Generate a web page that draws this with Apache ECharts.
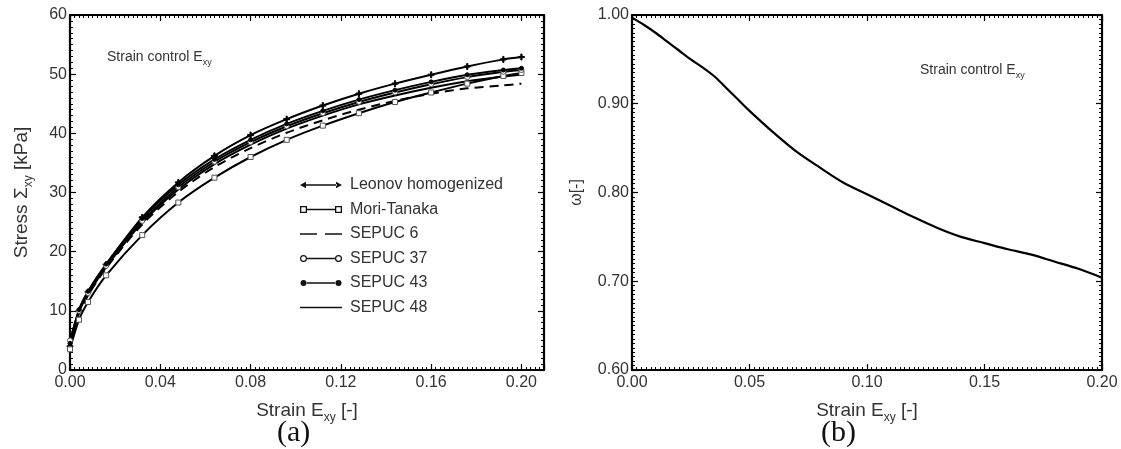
<!DOCTYPE html>
<html>
<head>
<meta charset="utf-8">
<script src="https://cdn.jsdelivr.net/npm/echarts@6/dist/echarts.min.js"></script>
<style>
  html, body { margin: 0; padding: 0; background: #fff; }
  #main { width: 1121px; height: 449px; }
</style>
</head>
<body>
<div id="main"></div>
<script>
// (a) stress vs strain
var strain = [0, 0.004, 0.008, 0.016, 0.032, 0.048, 0.064, 0.080, 0.096, 0.112, 0.128, 0.144, 0.160, 0.176, 0.192, 0.200];
var leonov = [4.0, 10.0, 13.2, 17.8, 25.8, 31.7, 36.2, 39.7, 42.4, 44.7, 46.7, 48.4, 49.9, 51.3, 52.5, 52.9];
var moriTanaka = [3.5, 8.5, 11.5, 16.0, 22.8, 28.3, 32.5, 36.0, 38.9, 41.3, 43.4, 45.3, 46.9, 48.4, 49.7, 50.2];
var sepuc6 = [4.0, 9.6, 12.6, 17.2, 24.6, 30.1, 34.3, 37.5, 40.1, 42.2, 44.0, 45.5, 46.7, 47.6, 48.1, 48.4];
var sepuc37 = [5.0, 10.0, 13.0, 17.6, 25.2, 30.9, 35.2, 38.5, 41.2, 43.4, 45.3, 46.9, 48.3, 49.5, 50.4, 50.7];
var sepuc43 = [4.5, 10.2, 13.3, 17.9, 25.6, 31.3, 35.6, 38.9, 41.6, 43.8, 45.7, 47.3, 48.7, 49.9, 50.7, 51.0];
var sepuc48 = [4.5, 9.8, 12.8, 17.4, 24.9, 30.5, 34.8, 38.1, 40.8, 43.0, 44.9, 46.4, 47.7, 48.8, 49.6, 49.9];

// (b) omega vs strain
var strainB = [0, 0.005, 0.01, 0.015, 0.02, 0.025, 0.03, 0.035, 0.04, 0.045, 0.05, 0.06, 0.07, 0.08, 0.09, 0.10, 0.11, 0.12, 0.13, 0.14, 0.15, 0.16, 0.17, 0.18, 0.19, 0.20];
var omega = [0.997, 0.989, 0.980, 0.970, 0.960, 0.950, 0.941, 0.931, 0.918, 0.905, 0.892, 0.868, 0.846, 0.828, 0.811, 0.798, 0.785, 0.772, 0.760, 0.750, 0.743, 0.736, 0.730, 0.722, 0.714, 0.704];

var TXT = '#333';
var FONT = 'Liberation Sans, Arial, sans-serif';

function pairs(xs, ys) {
  return xs.map(function (x, i) { return [x, ys[i]]; });
}

var richName = {
  n: { fontSize: 19, fontFamily: FONT, color: TXT, lineHeight: 26 },
  s: { fontSize: 12, fontFamily: FONT, color: TXT, lineHeight: 12, verticalAlign: 'bottom' }
};
var richNote = {
  n: { fontSize: 14, fontFamily: FONT, fontWeight: 'normal', color: TXT, lineHeight: 20 },
  s: { fontSize: 9, fontFamily: FONT, fontWeight: 'normal', color: TXT, lineHeight: 9, verticalAlign: 'bottom' }
};

function frameAxis(opt) {
  var base = {
    type: 'value',
    axisLine: { show: true, onZero: false, lineStyle: { color: '#000', width: 2.2 } },
    axisTick: { show: true, inside: true, length: 6, lineStyle: { color: '#000', width: 1.2 } },
    minorTick: { show: true, splitNumber: 10, length: 3, lineStyle: { color: '#000', width: 1 } },
    splitLine: { show: false },
    axisLabel: { show: true, color: TXT, fontSize: 16, fontFamily: FONT, margin: 5 }
  };
  for (var k in opt) base[k] = opt[k];
  return base;
}

// legend icons: 42x14 box, markers at both ends like the original key
var BOX = 'M0,0M42,14';
var icons = {
  line: BOX + 'M0,6.2h42v1.6h-42z',
  leonov: BOX + 'M0,7L6,3.8L6,10.2ZM42,7L36,3.8L36,10.2ZM5,6.2h32v1.6h-32z',
  square: BOX + 'M0,3.5h7v7h-7zM1.3,4.8v4.4h4.4v-4.4zM35,3.5h7v7h-7zM36.3,4.8v4.4h4.4v-4.4zM7,6.3h28v1.4h-28z',
  dash: BOX + 'M0,6.2h17v1.6h-17zM25,6.2h17v1.6h-17z',
  ring: BOX + 'M0,7a3.5,3.5 0 1,0 7,0a3.5,3.5 0 1,0 -7,0zM1.2,7a2.3,2.3 0 1,1 4.6,0a2.3,2.3 0 1,1 -4.6,0z' +
        'M35,7a3.5,3.5 0 1,0 7,0a3.5,3.5 0 1,0 -7,0zM36.2,7a2.3,2.3 0 1,1 4.6,0a2.3,2.3 0 1,1 -4.6,0zM7,6.3h28v1.4h-28z',
  dot: BOX + 'M0.5,7a3,3 0 1,0 6,0a3,3 0 1,0 -6,0zM35.5,7a3,3 0 1,0 6,0a3,3 0 1,0 -6,0zM6,6.2h30v1.6h-30z'
};
function legendItem(name, icon) {
  return { name: name, icon: 'path://' + icon, itemStyle: { color: '#111', borderWidth: 0 } };
}

var plusPath = 'path://M4,0h2v10h-2zM0,4h10v2h-10z';

function curve(name, ys, symbol, size, extra) {
  var s = {
    name: name,
    type: 'line',
    xAxisIndex: 0,
    yAxisIndex: 0,
    data: pairs(strain, ys),
    smooth: 0.3,
    symbol: symbol,
    symbolSize: size,
    showSymbol: symbol !== 'none',
    lineStyle: { color: '#000', width: 2 },
    itemStyle: { color: '#000', borderColor: '#000', borderWidth: 1 }
  };
  if (extra) for (var k in extra) s[k] = extra[k];
  return s;
}

var chart = echarts.init(document.getElementById('main'));
chart.setOption({
  animation: false,
  backgroundColor: '#fff',
  grid: [
    { left: 70, top: 15, width: 474, height: 355 },
    { left: 632, top: 15, width: 470, height: 355 }
  ],
  title: [
    { text: '{n|Strain control E}{s|xy}', left: 107, top: 47, padding: 0,
      textStyle: { fontWeight: 'normal', rich: richNote } },
    { text: '{n|Strain control E}{s|xy}', left: 920, top: 60, padding: 0,
      textStyle: { fontWeight: 'normal', rich: richNote } }
  ],
  legend: {
    orient: 'vertical',
    left: 300,
    top: 177,
    padding: 0,
    itemWidth: 42,
    itemHeight: 14,
    itemGap: 8.5,
    textStyle: { color: TXT, fontSize: 16, fontFamily: FONT, padding: [0, 0, 0, 3] },
    data: [
      legendItem('Leonov homogenized', icons.leonov),
      legendItem('Mori-Tanaka', icons.square),
      legendItem('SEPUC 6', icons.dash),
      legendItem('SEPUC 37', icons.ring),
      legendItem('SEPUC 43', icons.dot),
      legendItem('SEPUC 48', icons.line)
    ]
  },
  graphic: [
    { type: 'text', left: 277, top: 418, style: { text: '(a)', font: '30px "Liberation Serif", serif', fill: '#111' } },
    { type: 'text', left: 821, top: 418, style: { text: '(b)', font: '30px "Liberation Serif", serif', fill: '#111' } }
  ],
  xAxis: [
    frameAxis({ gridIndex: 0, position: 'bottom', min: 0, max: 0.21, interval: 0.04,
      minorTick: { show: true, splitNumber: 20, length: 3, lineStyle: { color: '#000', width: 1 } },
      axisLabel: { show: true, color: TXT, fontSize: 16, fontFamily: FONT, margin: 5, showMaxLabel: false,
        formatter: function (v) { return v.toFixed(2); } },
      name: '{n|Strain E}{s|xy}{n| [-]}', nameLocation: 'middle', nameGap: 28,
      nameTextStyle: { rich: richName } }),
    frameAxis({ gridIndex: 0, position: 'top', min: 0, max: 0.21, interval: 0.04,
      minorTick: { show: true, splitNumber: 20, length: 3, lineStyle: { color: '#000', width: 1 } },
      axisLabel: { show: false } }),
    frameAxis({ gridIndex: 1, position: 'bottom', min: 0, max: 0.2, interval: 0.05,
      minorTick: { show: true, splitNumber: 25, length: 3, lineStyle: { color: '#000', width: 1 } },
      axisLabel: { show: true, color: TXT, fontSize: 16, fontFamily: FONT, margin: 5,
        formatter: function (v) { return v.toFixed(2); } },
      name: '{n|Strain E}{s|xy}{n| [-]}', nameLocation: 'middle', nameGap: 28,
      nameTextStyle: { rich: richName } }),
    frameAxis({ gridIndex: 1, position: 'top', min: 0, max: 0.2, interval: 0.05,
      minorTick: { show: true, splitNumber: 25, length: 3, lineStyle: { color: '#000', width: 1 } },
      axisLabel: { show: false } })
  ],
  yAxis: [
    frameAxis({ gridIndex: 0, position: 'left', min: 0, max: 60, interval: 10,
      axisLabel: { show: true, color: TXT, fontSize: 16, fontFamily: FONT, margin: 3 },
      name: '{n|Stress \u03A3}{s|xy}{n| [kPa]}', nameLocation: 'middle', nameGap: 35,
      nameTextStyle: { rich: richName } }),
    frameAxis({ gridIndex: 0, position: 'right', min: 0, max: 60, interval: 10,
      axisLabel: { show: false } }),
    frameAxis({ gridIndex: 1, position: 'left', min: 0.6, max: 1.0, interval: 0.1,
      minorTick: { show: true, splitNumber: 20, length: 3, lineStyle: { color: '#000', width: 1 } },
      axisLabel: { show: true, color: TXT, fontSize: 16, fontFamily: FONT, margin: 3,
        formatter: function (v) { return v.toFixed(2); } },
      name: '\u03C9[-]', nameLocation: 'middle', nameGap: 47,
      nameTextStyle: { color: TXT, fontSize: 16, fontFamily: FONT } }),
    frameAxis({ gridIndex: 1, position: 'right', min: 0.6, max: 1.0, interval: 0.1,
      minorTick: { show: true, splitNumber: 20, length: 3, lineStyle: { color: '#000', width: 1 } },
      axisLabel: { show: false } })
  ],
  series: [
    curve('Leonov homogenized', leonov, plusPath, 6),
    curve('Mori-Tanaka', moriTanaka, 'rect', 5, { itemStyle: { color: '#fff', borderColor: '#555', borderWidth: 1 } }),
    curve('SEPUC 6', sepuc6, 'none', 0, { lineStyle: { color: '#000', width: 2, type: [9, 6] } }),
    curve('SEPUC 37', sepuc37, 'circle', 5, { itemStyle: { color: '#fff', borderColor: '#555', borderWidth: 1 } }),
    curve('SEPUC 43', sepuc43, 'circle', 4),
    curve('SEPUC 48', sepuc48, 'none', 0),
    {
      name: 'omega',
      type: 'line',
      xAxisIndex: 2,
      yAxisIndex: 2,
      data: pairs(strainB, omega),
      smooth: 0.3,
      symbol: 'none',
      lineStyle: { color: '#000', width: 2.2 }
    }
  ]
});
</script>
</body>
</html>
